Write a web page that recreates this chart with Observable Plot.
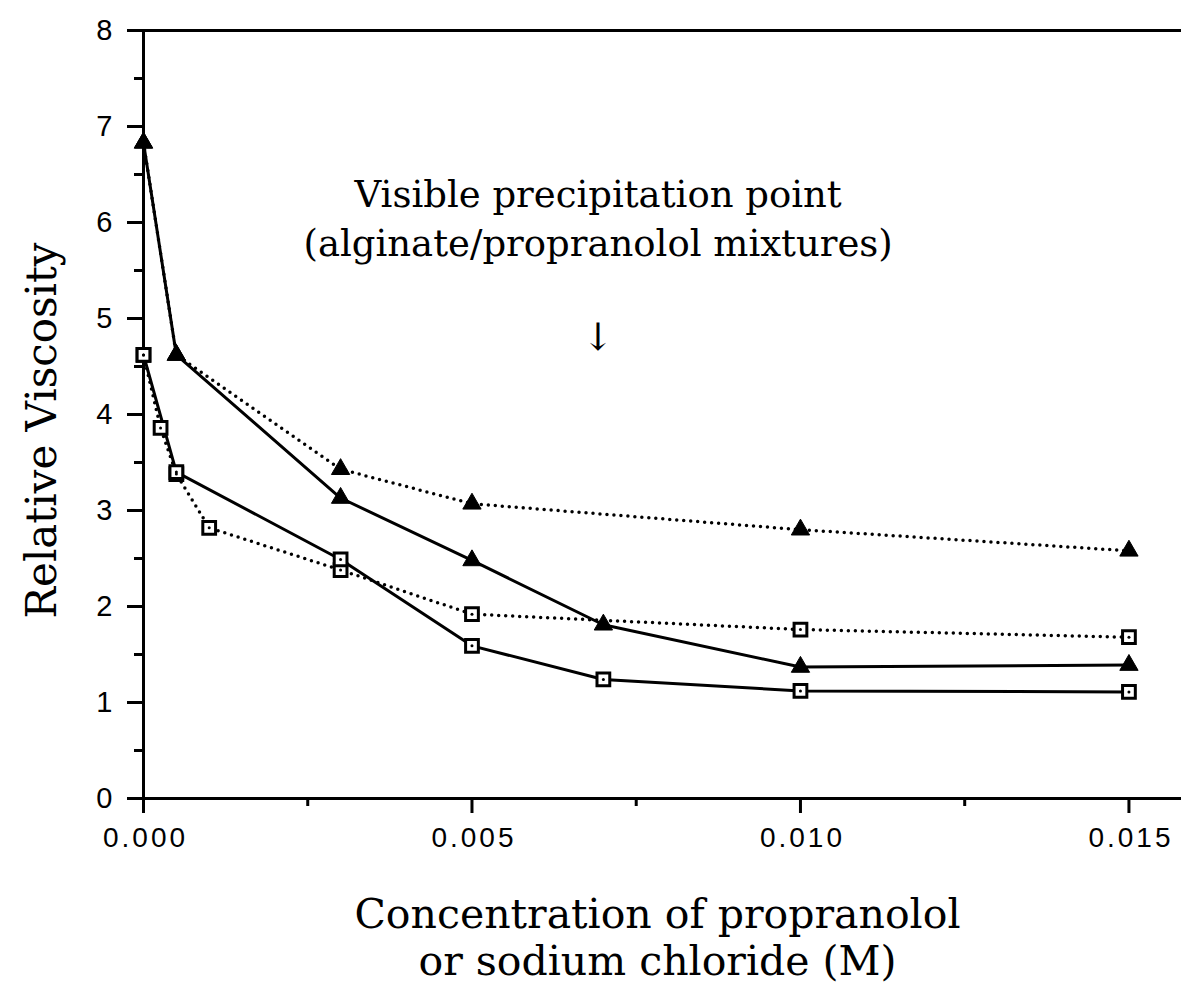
<!DOCTYPE html>
<html>
<head>
<meta charset="utf-8">
<script src="https://cdn.jsdelivr.net/npm/d3@7"></script>
<script src="https://cdn.jsdelivr.net/npm/@observablehq/plot@0.6"></script>
<style>
  html, body { margin: 0; padding: 0; background: #fff; }
</style>
</head>
<body>
<div id="chart"></div>
<script>
// ---- data ----
const xSolidTri = [0, 0.0005, 0.003, 0.005, 0.007, 0.010, 0.015];
const ySolidTri = [6.83, 4.62, 3.13, 2.48, 1.81, 1.37, 1.39];

const xDotTri = [0, 0.0005, 0.003, 0.005, 0.010, 0.015];
const yDotTri = [6.83, 4.62, 3.43, 3.07, 2.80, 2.58];

const xSolidSq = [0, 0.0005, 0.003, 0.005, 0.007, 0.010, 0.015];
const ySolidSq = [4.62, 3.40, 2.49, 1.59, 1.24, 1.12, 1.11];

const xDotSq = [0, 0.00026, 0.0005, 0.001, 0.003, 0.005, 0.010, 0.015];
const yDotSq = [4.62, 3.86, 3.38, 2.82, 2.38, 1.92, 1.76, 1.68];

const xMajorTicks = [0, 0.005, 0.010, 0.015];
const xMinorTicks = [0.0025, 0.0075, 0.0125];
const yMajorTicks = [0, 1, 2, 3, 4, 5, 6, 7, 8];
const yMinorTicks = [0.5, 1.5, 2.5, 3.5, 4.5, 5.5, 6.5, 7.5];

const yTitle = "Relative Viscosity";
const xTitle = "Concentration of propranolol\nor sodium chloride (M)";
const noteText = "Visible precipitation point\n(alginate/propranolol mixtures)";
const noteArrow = "↓";
const noteX = 0.00692;

const toRows = (xs, ys) => xs.map((x, i) => ({x, y: ys[i]}));
const solidTri = toRows(xSolidTri, ySolidTri);
const dotTri = toRows(xDotTri, yDotTri);
const solidSq = toRows(xSolidSq, ySolidSq);
const dotSq = toRows(xDotSq, yDotSq);

const serif = "DejaVu Serif";
const sans = "Liberation Sans, Arial, sans-serif";
const xFmt = d3.format(".3f");
const dotted = {stroke: "black", strokeWidth: 3.5, strokeDasharray: "0,7", strokeLinecap: "round"};
const solid = {stroke: "black", strokeWidth: 3, strokeLinejoin: "round"};

const chart = Plot.plot({
  width: 1181,
  height: 988,
  marginLeft: 143,
  marginRight: 0,
  marginTop: 30,
  marginBottom: 190,
  style: {fontFamily: sans, color: "black", background: "white"},
  x: {domain: [0, 0.0158], axis: null},
  y: {domain: [0, 8], axis: null},
  marks: [
    // axis frame lines
    Plot.ruleX([0], {stroke: "black", strokeWidth: 3}),
    Plot.ruleY([0], {stroke: "black", strokeWidth: 3}),
    Plot.ruleY([8], {stroke: "black", strokeWidth: 3}),
    // y axis ticks + labels
    Plot.axisY(yMajorTicks, {label: null, tickSize: 16, strokeWidth: 3, text: null}),
    Plot.axisY(yMinorTicks, {label: null, tickSize: 9, strokeWidth: 3, text: null}),
    Plot.text(yMajorTicks, {y: d => d, frameAnchor: "left", dx: -31, textAnchor: "end", text: d3.format("d"), fontFamily: sans, fontSize: 29, fill: "black"}),
    // x axis ticks + labels
    Plot.axisX(xMajorTicks, {label: null, tickSize: 15, strokeWidth: 3, text: null}),
    Plot.axisX(xMinorTicks, {label: null, tickSize: 8, strokeWidth: 3, text: null}),
    Plot.text(xMajorTicks, {x: d => d, frameAnchor: "bottom", dy: 40, dx: 2, lineAnchor: "middle", text: xFmt, fontFamily: sans, fontSize: 28, fill: "black"}),
    // lines
    Plot.line(dotTri, {x: "x", y: "y", ...dotted}),
    Plot.line(dotSq, {x: "x", y: "y", ...dotted}),
    Plot.line(solidTri, {x: "x", y: "y", ...solid}),
    Plot.line(solidSq, {x: "x", y: "y", ...solid}),
    // markers
    Plot.dot(dotTri, {x: "x", y: "y", symbol: "triangle", r: 6.8, fill: "black", stroke: "black", strokeWidth: 1}),
    Plot.dot(solidTri, {x: "x", y: "y", symbol: "triangle", r: 6.8, fill: "black", stroke: "black", strokeWidth: 1}),
    Plot.dot(dotSq, {x: "x", y: "y", symbol: "square", r: 7.2, fill: "white", stroke: "black", strokeWidth: 3}),
    Plot.dot(solidSq, {x: "x", y: "y", symbol: "square", r: 7.2, fill: "white", stroke: "black", strokeWidth: 3}),
    Plot.dot(dotSq, {x: "x", y: "y", r: 1.5, fill: "black"}),
    Plot.dot(solidSq, {x: "x", y: "y", r: 1.5, fill: "black"}),
    // annotation
    Plot.text([noteText], {x: noteX, y: 6.07, text: d => d, fontFamily: serif, fontSize: 37, lineHeight: 1.33, fill: "black"}),
    Plot.text([noteArrow], {x: noteX, y: 4.8, text: d => d, fontFamily: serif, fontSize: 38, fill: "black"}),
    // axis titles
    Plot.text([yTitle], {frameAnchor: "left", textAnchor: "middle", lineAnchor: "middle", dx: -101, dy: 16, rotate: -90, text: d => d, fontFamily: serif, fontSize: 42, fill: "black"}),
    Plot.text([xTitle], {frameAnchor: "bottom", textAnchor: "middle", lineAnchor: "middle", dy: 138, dx: -5, text: d => d, fontFamily: serif, fontSize: 41, lineHeight: 1.15, fill: "black"})
  ]
});
// wide letter spacing of the x tick labels, as in the reference
const xLabelSet = new Set(xMajorTicks.map(xFmt));
d3.select(chart).selectAll("text")
  .filter(function () { return xLabelSet.has(this.textContent); })
  .style("letter-spacing", "3px");
document.getElementById("chart").appendChild(chart);
</script>
</body>
</html>
